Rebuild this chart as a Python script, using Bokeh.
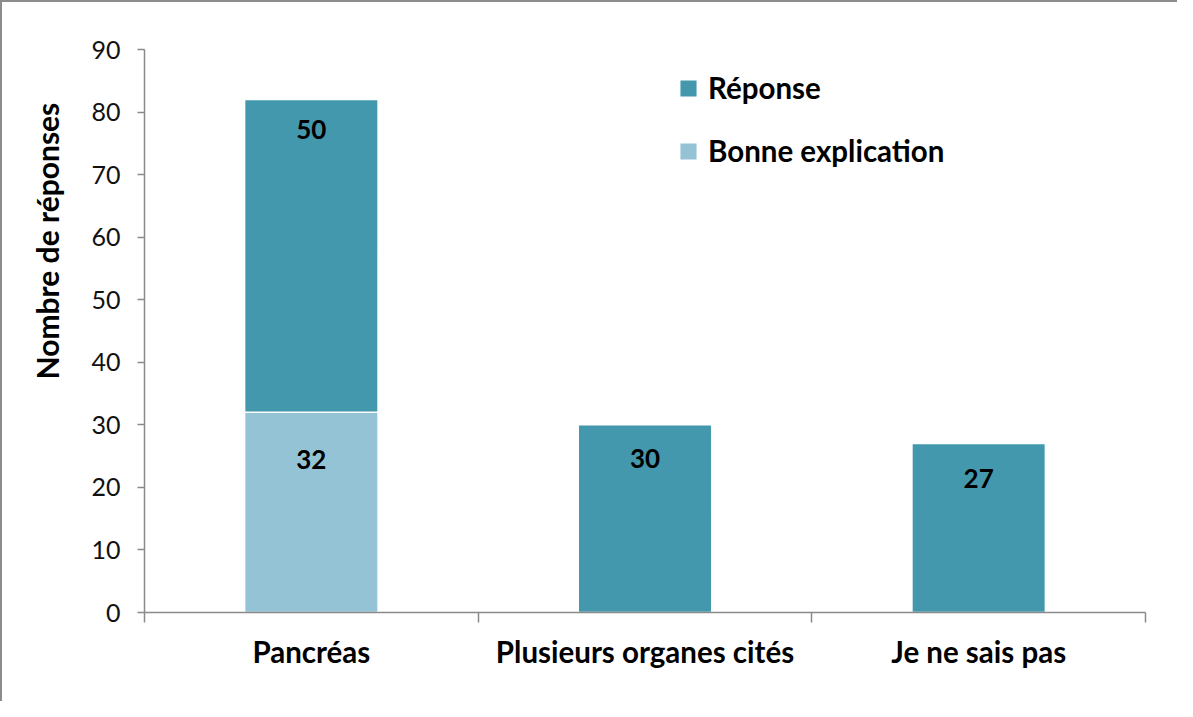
from bokeh.plotting import figure
from bokeh.models import (Range1d, FixedTicker, LinearAxis, Legend, LegendItem,
                          ColumnDataSource, Title)
from bokeh.core.properties import value
from bokeh.embed import file_html
from bokeh.resources import INLINE

categories = ["Pancréas", "Plusieurs organes cités", "Je ne sais pas"]
bonne_explication = [32, 0, 0]
reponse = [50, 30, 27]
y_ticks = [0, 10, 20, 30, 40, 50, 60, 70, 80, 90]

FONT = "Lato"
TEAL = "#4398AE"
LIGHT = "#93C3D5"
GRID = "#8A8A8A"

W, H = 1177, 701
p = figure(width=W, height=H, output_backend="svg", toolbar_location=None,
           x_range=Range1d(0, len(categories)), y_range=Range1d(0, 90),
           min_border_left=142, min_border_right=34, min_border_top=47,
           min_border_bottom=91, x_axis_type=None, y_axis_type=None)
p.outline_line_color = None
p.styles = {"border-top": "2px solid #8C8C8C", "border-left": "2px solid #8C8C8C"}

xs = [i + 0.5 for i in range(len(categories))]
src = ColumnDataSource(dict(x=xs, bonne=bonne_explication, reponse=reponse))
r = p.vbar_stack(["bonne", "reponse"], x="x", width=0.4, source=src,
                 color=[LIGHT, TEAL], line_color="white", line_width=1.5)

# y axis
yax = LinearAxis(ticker=FixedTicker(ticks=y_ticks))
yax.axis_line_color = GRID
yax.axis_line_width = 1.5
yax.major_tick_line_color = GRID
yax.major_tick_line_width = 1.5
yax.major_tick_out = 7
yax.major_tick_in = 0
yax.minor_tick_line_color = None
yax.major_label_standoff = 17
yax.major_label_text_font = FONT
yax.major_label_text_font_size = "25px"
yax.major_label_text_color = "#111111"
p.add_layout(yax, "left")

# y axis title
p.add_layout(Title(text="Nombre de réponses", align="left", offset=233,
                   standoff=47, text_font=FONT, text_font_size="30px",
                   text_font_style="bold", text_color="#000000"), "left")

# x axis: category labels at centres, tick marks at category boundaries
xax = LinearAxis(ticker=FixedTicker(ticks=xs,
                                    minor_ticks=list(range(len(categories) + 1))),
                 major_label_overrides={x: c for x, c in zip(xs, categories)})
xax.axis_line_color = GRID
xax.axis_line_width = 1.5
xax.major_tick_line_color = None
xax.major_tick_out = 0
xax.major_tick_in = 0
xax.minor_tick_line_color = GRID
xax.minor_tick_line_width = 1.5
xax.minor_tick_out = 10
xax.minor_tick_in = 0
xax.major_label_standoff = 11
xax.major_label_text_font = FONT
xax.major_label_text_font_size = "29.5px"
xax.major_label_text_font_style = "bold"
xax.major_label_text_color = "#000000"
p.add_layout(xax, "below")

# grid
p.ygrid.ticker = FixedTicker(ticks=y_ticks)
p.ygrid.grid_line_color = GRID
p.ygrid.grid_line_width = 1.5
p.xgrid.grid_line_color = None

# data labels
lx, ly, lt = [], [], []
for i, x in enumerate(xs):
    b = bonne_explication[i]
    if b:
        lx.append(x); ly.append(b); lt.append(str(b))
    lx.append(x); ly.append(b + reponse[i]); lt.append(str(reponse[i]))
offsets = [47, 30, 34, 35]
lsrc = ColumnDataSource(dict(x=lx, y=ly, t=lt, off=offsets))
p.text(x="x", y="y", text="t", y_offset="off", source=lsrc,
       text_align="center", text_baseline="middle",
       text_font=value(FONT), text_font_size="26px", text_font_style="bold",
       text_color="#000000")

legend = Legend(items=[LegendItem(label="Réponse", renderers=[r[1]]),
                       LegendItem(label="Bonne explication", renderers=[r[0]])],
                location=(533, 444))
legend.padding = 0
legend.margin = 0
legend.spacing = 28
legend.glyph_width = 22
legend.glyph_height = 22
legend.label_height = 24
legend.label_standoff = 9
legend.label_text_font = FONT
legend.label_text_font_size = "29.5px"
legend.label_text_font_style = "bold"
legend.label_text_color = "#000000"
legend.border_line_color = None
legend.background_fill_alpha = 0
p.add_layout(legend)

open("out.html", "w").write(file_html(p, INLINE))
